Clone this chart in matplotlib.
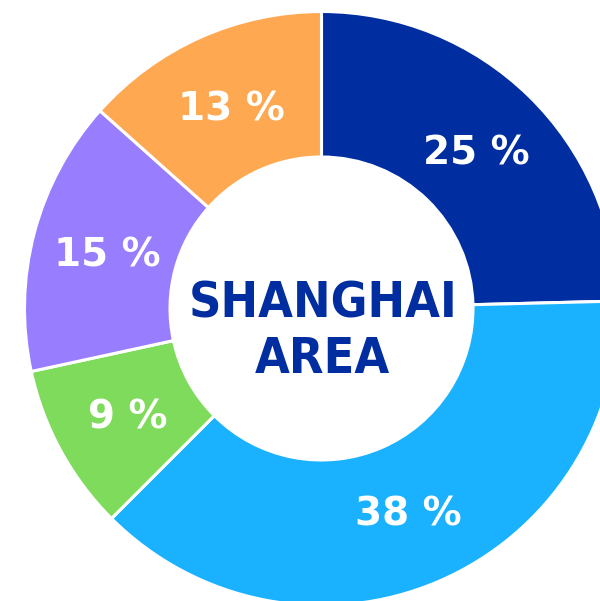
import numpy as np
import matplotlib
matplotlib.use("Agg")
import matplotlib.pyplot as plt

# data
categories = ["A", "B", "C", "D", "E"]
shares = [24.6, 37.9, 9.1, 15.0, 13.4]
labels = ["25 %", "38 %", "9 %", "15 %", "13 %"]
colors = ["#002da0", "#1ab2ff", "#7edb5b", "#987dff", "#ffa852"]
center_title = "SHANGHAI\nAREA"

W, H = 600, 601
cx, cy, R = 321.5, 308.5, 297.0
r_in = 151.5

fig = plt.figure(figsize=(W / 100, H / 100), dpi=100)
ax = fig.add_axes([0, 0, 1, 1])
wedges, _ = ax.pie(shares, colors=colors, startangle=90, counterclock=False,
                   radius=1.0, wedgeprops=dict(width=1 - r_in / R, edgecolor="white", linewidth=2.2))
ax.set_aspect("auto")
ax.set_xlim(-cx / R, (W - cx) / R)
ax.set_ylim(-(H - cy) / R, cy / R)
ax.axis("off")

for w, lab in zip(wedges, labels):
    th = np.deg2rad((w.theta1 + w.theta2) / 2)
    rr = 0.745
    ax.text(rr * np.cos(th), rr * np.sin(th) - 3.0 / R, lab, ha="center", va="center",
            color="white", fontsize=28, fontweight="bold", family="DejaVu Sans")

ax.text(0.004, (cy - 331) / R, center_title, ha="center", va="center",
        color="#002da0", fontsize=36, fontweight="bold", family="DejaVu Sans",
        fontstretch="condensed", linespacing=1.2)

fig.savefig("out.png", dpi=100)
